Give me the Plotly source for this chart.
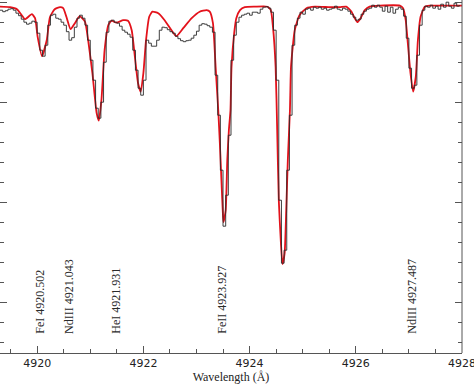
import plotly.graph_objects as go

# ---- synthetic (model) spectrum ----
model_wave = [4919.30, 4919.49, 4919.62, 4919.71, 4919.77, 4919.90, 4919.96, 4920.01, 4920.09, 4920.18,
              4920.24, 4920.33, 4920.43, 4920.49, 4920.55, 4920.63, 4920.71, 4920.80, 4920.90, 4920.96,
              4921.04, 4921.12, 4921.16, 4921.21, 4921.27, 4921.34, 4921.40, 4921.49, 4921.62, 4921.71,
              4921.78, 4921.84, 4921.90, 4921.95, 4922.00, 4922.05, 4922.11, 4922.17, 4922.28, 4922.40,
              4922.53, 4922.62, 4922.75, 4922.91, 4923.06, 4923.19, 4923.25, 4923.31, 4923.36, 4923.41,
              4923.44, 4923.47, 4923.50, 4923.51, 4923.55, 4923.58, 4923.61, 4923.64, 4923.66, 4923.71,
              4923.75, 4923.82, 4923.91, 4924.10, 4924.34, 4924.40, 4924.44, 4924.49, 4924.52, 4924.55,
              4924.59, 4924.62, 4924.66, 4924.69, 4924.72, 4924.76, 4924.78, 4924.85, 4924.94, 4925.07,
              4925.23, 4925.51, 4925.70, 4925.82, 4925.92, 4925.98, 4926.03, 4926.09, 4926.17, 4926.26,
              4926.45, 4926.83, 4926.89, 4926.94, 4926.98, 4927.03, 4927.08, 4927.13, 4927.17, 4927.22,
              4927.30, 4927.39, 4928.00]
model_flux = [0.992, 0.991, 0.987, 0.975, 0.967, 0.977, 0.969, 0.931, 0.893, 0.925,
              0.971, 0.987, 0.991, 0.989, 0.972, 0.947, 0.959, 0.973, 0.962, 0.925,
              0.859, 0.779, 0.764, 0.805, 0.905, 0.955, 0.964, 0.960, 0.965, 0.964,
              0.945, 0.892, 0.839, 0.822, 0.859, 0.925, 0.972, 0.982, 0.979, 0.965,
              0.945, 0.933, 0.949, 0.969, 0.982, 0.985, 0.982, 0.959, 0.872, 0.785,
              0.719, 0.645, 0.572, 0.561, 0.585, 0.685, 0.745, 0.785, 0.872, 0.939,
              0.969, 0.985, 0.991, 0.992, 0.992, 0.985, 0.952, 0.872, 0.745, 0.605,
              0.519, 0.477, 0.499, 0.585, 0.685, 0.785, 0.872, 0.945, 0.975, 0.989,
              0.992, 0.991, 0.991, 0.992, 0.982, 0.969, 0.961, 0.969, 0.985, 0.992,
              0.994, 0.994, 0.989, 0.965, 0.919, 0.859, 0.822, 0.852, 0.925, 0.972,
              0.992, 0.994, 0.994]

obs_wave = [4919.30, 4919.35, 4919.40, 4919.45, 4919.50, 4919.55, 4919.60, 4919.65, 4919.70, 4919.75,
            4919.80, 4919.85, 4919.90, 4919.95, 4920.00, 4920.05, 4920.10, 4920.15, 4920.20, 4920.25,
            4920.30, 4920.35, 4920.40, 4920.45, 4920.50, 4920.55, 4920.60, 4920.65, 4920.70, 4920.75,
            4920.80, 4920.85, 4920.90, 4920.95, 4921.00, 4921.05, 4921.10, 4921.15, 4921.20, 4921.25,
            4921.30, 4921.35, 4921.40, 4921.45, 4921.50, 4921.55, 4921.60, 4921.65, 4921.70, 4921.75,
            4921.80, 4921.85, 4921.90, 4921.95, 4922.00, 4922.05, 4922.10, 4922.15, 4922.20, 4922.25,
            4922.30, 4922.35, 4922.40, 4922.45, 4922.50, 4922.55, 4922.60, 4922.65, 4922.70, 4922.75,
            4922.80, 4922.85, 4922.90, 4922.95, 4923.00, 4923.05, 4923.10, 4923.15, 4923.20, 4923.25,
            4923.30, 4923.35, 4923.40, 4923.45, 4923.50, 4923.55, 4923.60, 4923.65, 4923.70, 4923.75,
            4923.80, 4923.85, 4923.90, 4923.95, 4924.00, 4924.05, 4924.10, 4924.15, 4924.20, 4924.25,
            4924.30, 4924.35, 4924.40, 4924.45, 4924.50, 4924.55, 4924.60, 4924.65, 4924.70, 4924.75,
            4924.80, 4924.85, 4924.90, 4924.95, 4925.00, 4925.05, 4925.10, 4925.15, 4925.20, 4925.25,
            4925.30, 4925.35, 4925.40, 4925.45, 4925.50, 4925.55, 4925.60, 4925.65, 4925.70, 4925.75,
            4925.80, 4925.85, 4925.90, 4925.95, 4926.00, 4926.05, 4926.10, 4926.15, 4926.20, 4926.25,
            4926.30, 4926.35, 4926.40, 4926.45, 4926.50, 4926.55, 4926.60, 4926.65, 4926.70, 4926.75,
            4926.80, 4926.85, 4926.90, 4926.95, 4927.00, 4927.05, 4927.10, 4927.15, 4927.20, 4927.25,
            4927.30, 4927.35, 4927.40, 4927.45, 4927.50, 4927.55, 4927.60, 4927.65, 4927.70, 4927.75,
            4927.80, 4927.85, 4927.90, 4927.95]
obs_flux = [0.985, 0.982, 0.984, 0.987, 0.988, 0.985, 0.979, 0.974, 0.967, 0.961,
            0.957, 0.959, 0.963, 0.961, 0.939, 0.905, 0.893, 0.915, 0.955, 0.975,
            0.977, 0.969, 0.967, 0.961, 0.955, 0.942, 0.925, 0.930, 0.951, 0.969,
            0.975, 0.969, 0.955, 0.925, 0.885, 0.845, 0.789, 0.769, 0.801, 0.881,
            0.941, 0.963, 0.965, 0.961, 0.959, 0.953, 0.945, 0.941, 0.937, 0.931,
            0.905, 0.865, 0.829, 0.815, 0.845, 0.925, 0.919, 0.913, 0.913, 0.925,
            0.945, 0.951, 0.950, 0.946, 0.942, 0.939, 0.933, 0.928, 0.924, 0.922,
            0.924, 0.925, 0.929, 0.935, 0.943, 0.955, 0.958, 0.957, 0.954, 0.951,
            0.941, 0.855, 0.775, 0.665, 0.553, 0.615, 0.735, 0.885, 0.935, 0.961,
            0.971, 0.975, 0.977, 0.979, 0.975, 0.981, 0.981, 0.979, 0.987, 0.991,
            0.992, 0.989, 0.981, 0.945, 0.845, 0.605, 0.479, 0.505, 0.665, 0.775,
            0.915, 0.955, 0.969, 0.981, 0.977, 0.987, 0.989, 0.985, 0.991, 0.989,
            0.991, 0.987, 0.989, 0.985, 0.987, 0.989, 0.993, 0.987, 0.985, 0.989,
            0.987, 0.983, 0.977, 0.971, 0.965, 0.967, 0.977, 0.983, 0.987, 0.989,
            0.995, 0.991, 0.995, 0.991, 0.983, 0.993, 0.981, 0.991, 0.979, 0.987,
            0.991, 0.987, 0.973, 0.929, 0.869, 0.829, 0.835, 0.895, 0.955, 0.985,
            0.993, 0.991, 0.995, 0.989, 0.993, 0.987, 0.997, 0.991, 1.001, 0.993,
            0.989, 0.999, 0.993, 0.995]

# ---- line identifications ----
line_labels = ["FeI 4920.502", "NdIII 4921.043", "HeI 4921.931", "FeII 4923.927", "NdIII 4927.487"]
line_pos = [4920.064, 4920.603, 4921.495, 4923.490, 4927.059]
label_base = 0.333

x_range = [4919.30, 4928.0]
y_range = [0.2994, 1.0054]

fig = go.Figure()
fig.add_trace(go.Scatter(x=model_wave, y=model_flux, mode="lines",
                         line=dict(color="#e3121b", width=1.8, shape="spline", smoothing=0.5),
                         hoverinfo="skip", showlegend=False))
fig.add_trace(go.Scatter(x=obs_wave, y=obs_flux, mode="lines",
                         line=dict(color="#2a2a2a", width=0.9, shape="hv"),
                         hoverinfo="skip", showlegend=False))

for txt, xp in zip(line_labels, line_pos):
    fig.add_annotation(x=xp, y=label_base, text=txt, showarrow=False, textangle=-90,
                       xanchor="center", yanchor="bottom",
                       font=dict(family="Liberation Serif", size=12, color="#2a2a2a"))

axcol = "#555555"
fig.add_shape(type="line", xref="paper", yref="paper", x0=1, x1=1, y0=0, y1=1,
              line=dict(color=axcol, width=1))

fig.update_xaxes(range=x_range, showgrid=False, zeroline=False, showline=True, linecolor=axcol,
                 linewidth=1, mirror=False, ticks="inside", ticklen=7, tickcolor=axcol,
                 tick0=4920, dtick=2, automargin=False, ticklabeloverflow="allow",
                 tickfont=dict(family="DejaVu Sans", size=11, color="#222222"),
                 minor=dict(ticks="inside", ticklen=4, dtick=0.5, tickcolor=axcol, showgrid=False),
                 title=dict(text="Wavelength (Å)", standoff=2,
                            font=dict(family="Liberation Serif", size=12, color="#222222")))
fig.update_yaxes(range=y_range, showgrid=False, zeroline=False, showline=False,
                 mirror="ticks", ticks="inside", ticklen=7, tickcolor=axcol,
                 tick0=0, dtick=0.2, showticklabels=False, automargin=False,
                 minor=dict(ticks="inside", ticklen=4, dtick=0.04, tickcolor=axcol, showgrid=False))

fig.update_layout(width=474, height=384, margin=dict(l=0, r=12, t=0, b=31),
                  plot_bgcolor="white", paper_bgcolor="white")

fig.write_html("out.html", config={"displayModeBar": False},
               post_script="document.body.style.margin='0';")
